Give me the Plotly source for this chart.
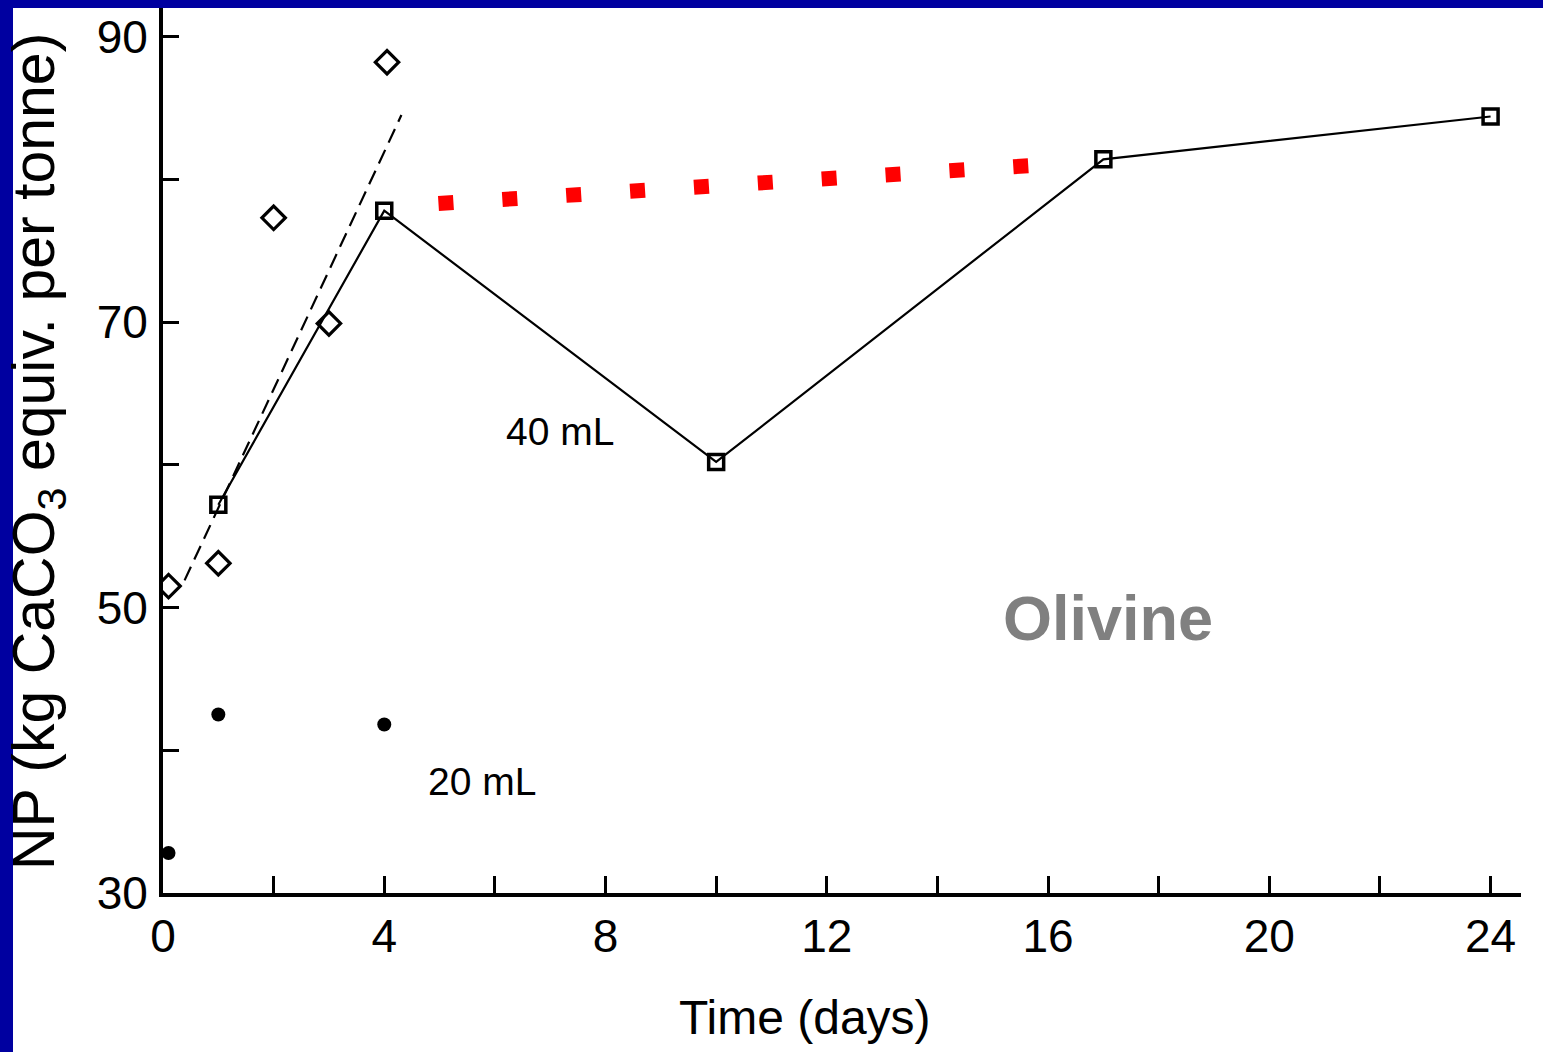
import plotly.graph_objects as go

# ---- data ----
sq_x = [1, 4, 10, 17, 24]            # 40 mL series (open squares, solid line)
sq_y = [57.2, 77.8, 60.2, 81.4, 84.4]

dia_x = [0.1, 1, 2, 3, 4.05]         # open diamonds
dia_y = [51.5, 53.1, 77.3, 69.9, 88.2]

fit_x = [0.39, 4.31]                 # dashed trend line
fit_y = [51.9, 84.5]

dot_x = [0.1, 1, 4]                  # 20 mL series (filled dots)
dot_y = [32.8, 42.5, 41.8]

red_x = [4.98, 15.65]                # red dotted connector
red_y = [78.3, 80.95]

x_major = [0, 4, 8, 12, 16, 20, 24]
x_labels = ["0", "4", "8", "12", "16", "20", "24"]
x_minor = [2, 6, 10, 14, 18, 22]
y_major = [30, 50, 70, 90]
y_labels = ["30", "50", "70", "90"]
y_minor = [40, 60, 80]

SANS = "Liberation Sans, Arial, sans-serif"
BLUE = "#0000A0"

W, H = 1543, 1052
L, R, T, B = 163, 22, 8, 159
PW, PH = W - L - R, H - T - B

def px(xp):
    return (xp - L) / PW

def py(yp):
    return (H - B - yp) / PH

fig = go.Figure()

fig.add_trace(go.Scatter(x=red_x, y=red_y, mode="lines",
                         line=dict(color="#FF0000", width=15, dash="15px,49px"),
                         hoverinfo="skip"))
fig.add_trace(go.Scatter(x=fit_x, y=fit_y, mode="lines",
                         line=dict(color="black", width=2.2, dash="15px,8px")))
fig.add_trace(go.Scatter(x=sq_x, y=sq_y, mode="lines+markers",
                         line=dict(color="black", width=2.2),
                         marker=dict(symbol="square-open", size=15, color="black",
                                     line=dict(width=3.5, color="black"))))
fig.add_trace(go.Scatter(x=dia_x, y=dia_y, mode="markers",
                         marker=dict(symbol="diamond-open", size=18, color="black",
                                     line=dict(width=3.2, color="black"))))
fig.add_trace(go.Scatter(x=dot_x, y=dot_y, mode="markers",
                         marker=dict(symbol="circle", size=14, color="black")))

tick_common = dict(ticks="inside", tickwidth=3, tickcolor="black")

fig.update_layout(
    width=W, height=H,
    margin=dict(l=L, r=R, t=T, b=B),
    paper_bgcolor="white", plot_bgcolor="white",
    showlegend=False,
    xaxis=dict(range=[0, 24.55], showgrid=False, zeroline=False,
               showline=True, linecolor="black", linewidth=4,
               ticklen=17, **tick_common,
               tickvals=x_major, ticktext=x_labels,
               minor=dict(tickvals=x_minor, ticklen=17, showgrid=False, **tick_common),
               tickfont=dict(family=SANS, size=46, color="black"),
               ticklabelstandoff=0),
    yaxis=dict(range=[30, 92], showgrid=False, zeroline=False,
               showline=True, linecolor="black", linewidth=4,
               ticklen=16, **tick_common,
               tickvals=y_major, ticktext=y_labels,
               minor=dict(tickvals=y_minor, ticklen=16, showgrid=False, **tick_common),
               tickfont=dict(family=SANS, size=46, color="black"),
               ticklabelstandoff=2),
    annotations=[
        dict(x=7.17, y=62.3, xref="x", yref="y", text="40 mL", showarrow=False,
             font=dict(family=SANS, size=39, color="black"),
             xanchor="center", yanchor="middle"),
        dict(x=5.76, y=37.8, xref="x", yref="y", text="20 mL", showarrow=False,
             font=dict(family=SANS, size=39, color="black"),
             xanchor="center", yanchor="middle"),
        dict(x=17.08, y=49.3, xref="x", yref="y", text="<b>Olivine</b>", showarrow=False,
             font=dict(family=SANS, size=63, color="#808080"),
             xanchor="center", yanchor="middle"),
        dict(x=px(805), y=py(1018), xref="paper", yref="paper", text="Time (days)",
             showarrow=False, font=dict(family=SANS, size=48, color="black"),
             xanchor="center", yanchor="middle"),
        dict(x=px(38), y=py(452), xref="paper", yref="paper",
             text="NP (kg CaCO<sub>3</sub> equiv. per tonne)", textangle=-90,
             showarrow=False, font=dict(family=SANS, size=59, color="black"),
             xanchor="center", yanchor="middle"),
    ],
    shapes=[
        dict(type="rect", xref="paper", yref="paper", x0=px(0), x1=px(W), y0=py(8), y1=py(-2),
             fillcolor=BLUE, line=dict(width=0), layer="above"),
        dict(type="rect", xref="paper", yref="paper", x0=px(-2), x1=px(13), y0=py(H + 2), y1=py(-2),
             fillcolor=BLUE, line=dict(width=0), layer="above"),
    ],
)

fig.write_html("out.html")
